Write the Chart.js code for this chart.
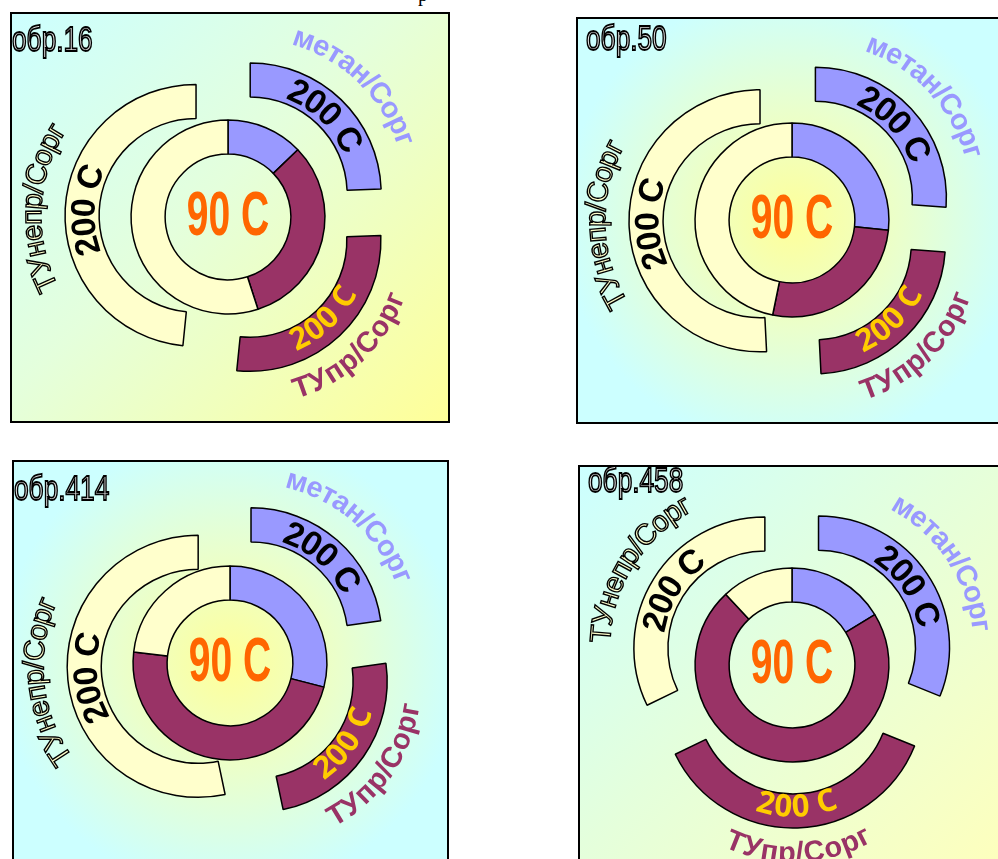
<!DOCTYPE html>
<html>
<head>
<meta charset="utf-8">
<script src="https://cdn.jsdelivr.net/npm/chart.js@4.4.0/dist/chart.umd.min.js"></script>
<style>
  html, body { margin: 0; padding: 0; background: #fff; }
  body { width: 998px; height: 859px; overflow: hidden; position: relative; }
  .panel { position: absolute; border: 2px solid #000; }
  .panel canvas { display: block; }
  .cut { position: absolute; left: 418px; top: -17px; font: 20px "Liberation Serif"; color: #000; }
</style>
</head>
<body>
<div class="cut">р</div>
<div class="panel" id="p0"><canvas id="c0"></canvas></div>
<div class="panel" id="p1"><canvas id="c1"></canvas></div>
<div class="panel" id="p2"><canvas id="c2"></canvas></div>
<div class="panel" id="p3"><canvas id="c3"></canvas></div>
<script>
// categories and series
const categories = ["метан/Сорг", "ТУпр/Сорг", "ТУнепр/Сорг"];
const seriesNames = ["200 C", "90 C"];
const samples = ["обр.16", "обр.50", "обр.414", "обр.458"];

// shares, % (outer ring = 200 C, inner ring = 90 C)
const outer16 = [24.4, 27.2, 48.4];
const inner16 = [12.8, 32.2, 55.0];
const outer50 = [26.1, 23.1, 50.8];
const inner50 = [26.7, 26.5, 46.8];
const outer414 = [22.8, 23.9, 53.3];
const inner414 = [29.0, 47.8, 23.2];
const outer458 = [31.1, 36.7, 32.2];
const inner458 = [16.3, 71.7, 12.0];

const outerData = [outer16, outer50, outer414, outer458];
const innerData = [inner16, inner50, inner414, inner458];

const colors = ["#9999ff", "#993366", "#ffffcc"];
const EXPLODE = 32; // outer ring pulled out, px

// panel boxes (page layout)
const panels = [
  { left: 10, top: 12, w: 436, h: 407, cx: 216, cy: 203, bg: "diag", tx: 0, ty: 37 },
  { left: 576, top: 17, w: 436, h: 403, cx: 214, cy: 201, bg: "radial", tx: 8, ty: 31 },
  { left: 12, top: 460, w: 433, h: 407, cx: 216, cy: 201, bg: "radial", tx: 0, ty: 38 },
  { left: 578, top: 465, w: 436, h: 407, cx: 212, cy: 198, bg: "diag2", tx: 8, ty: 25 },
];

// text styles
const valueStyle = [
  { font: "bold 34px 'Liberation Sans'", fill: "#000" },
  { font: "bold 31px 'Open Sans'", fill: "#ffcc00" },
  { font: "bold 34px 'Liberation Sans'", fill: "#000" },
];
const labelStyle = [
  { font: "bold 29px 'Liberation Sans'", fill: "#9999ff", gap: 32 },
  { font: "bold 29px 'Liberation Sans'", fill: "#993366", gap: 26 },
  { font: "29px 'Liberation Sans'", fill: "#ffffcc", stroke: "#000", lw: 1.4, gap: 32 },
];

function curved(ctx, text, cx, cy, r, mid, flip, st) {
  const chars = [...text];
  const sx = st.sx || 1;
  ctx.save();
  ctx.font = st.font;
  ctx.textAlign = "center";
  ctx.textBaseline = "middle";
  const widths = chars.map((ch) => ctx.measureText(ch).width * sx);
  const total = widths.reduce((a, b) => a + b, 0);
  const dir = flip ? -1 : 1;
  let a = mid - (dir * total) / 2 / r;
  chars.forEach((ch, k) => {
    const ang = a + (dir * widths[k]) / 2 / r;
    ctx.save();
    ctx.translate(cx + r * Math.cos(ang), cy + r * Math.sin(ang));
    ctx.rotate(ang + (dir * Math.PI) / 2);
    ctx.scale(sx, 1);
    ctx.fillStyle = st.fill;
    ctx.fillText(ch, 0, 0);
    if (st.stroke) {
      ctx.lineWidth = st.lw;
      ctx.strokeStyle = st.stroke;
      ctx.strokeText(ch, 0, 0);
    }
    ctx.restore();
    a += (dir * widths[k]) / r;
  });
  ctx.restore();
}

const arcText = {
  id: "arcText",
  // draw the outer ring exploded: each arc moved out along its own middle
  beforeDatasetDraw(chart, args) {
    if (args.index !== 0) return;
    const ctx = chart.ctx;
    args.meta.data.forEach((arc) => {
      const mid = (arc.startAngle + arc.endAngle) / 2;
      ctx.save();
      ctx.translate(Math.cos(mid) * EXPLODE, Math.sin(mid) * EXPLODE);
      arc.draw(ctx, chart.chartArea);
      ctx.restore();
    });
    return false;
  },
  afterDatasetsDraw(chart, args, opts) {
    const ctx = chart.ctx;
    chart.getDatasetMeta(0).data.forEach((arc, i) => {
      const p = arc.getProps(["x", "y", "startAngle", "endAngle", "innerRadius", "outerRadius"], true);
      const mid = (p.startAngle + p.endAngle) / 2;
      const cx = p.x + Math.cos(mid) * EXPLODE;
      const cy = p.y + Math.sin(mid) * EXPLODE;
      const deg = (((mid + Math.PI / 2) * 180) / Math.PI + 360) % 360;
      const flip = deg > 90 && deg < 250;
      curved(ctx, seriesNames[0], cx, cy, (p.innerRadius + p.outerRadius) / 2 - 3, mid, flip, valueStyle[i]);
      curved(ctx, categories[i], cx, cy, p.outerRadius + labelStyle[i].gap, mid, flip, labelStyle[i]);
    });

    // 90 C in the hole
    const c = chart.getDatasetMeta(1).data[0];
    ctx.save();
    ctx.translate(c.x, c.y + 18);
    ctx.scale(0.62, 1);
    ctx.font = "bold 63px 'Liberation Sans'";
    ctx.textAlign = "center";
    ctx.textBaseline = "alphabetic";
    ctx.fillStyle = "#ff6600";
    ctx.fillText(seriesNames[1], 0, 0);
    ctx.restore();

    // sample name
    ctx.save();
    ctx.translate(opts.tx, opts.ty);
    ctx.scale(0.75, 1);
    ctx.font = "35px 'Liberation Sans'";
    ctx.textBaseline = "alphabetic";
    ctx.fillStyle = "#e0e0e0";
    ctx.fillText(opts.title, 0, 0);
    ctx.lineWidth = 1.8;
    ctx.strokeStyle = "#000";
    ctx.strokeText(opts.title, 0, 0);
    ctx.restore();
  },
};

function pad(pn) {
  return {
    left: Math.max(0, 2 * pn.cx - pn.w),
    right: Math.max(0, pn.w - 2 * pn.cx),
    top: Math.max(0, 2 * pn.cy - pn.h),
    bottom: Math.max(0, pn.h - 2 * pn.cy),
  };
}

panels.forEach((pn, k) => {
  const box = document.getElementById("p" + k);
  box.style.left = pn.left + "px";
  box.style.top = pn.top + "px";
  box.style.width = pn.w + "px";
  box.style.height = pn.h + "px";
  if (pn.bg === "diag") {
    box.style.background = "linear-gradient(135deg, #ccffff 0%, #e4ffdc 45%, #ffff99 100%)";
  } else if (pn.bg === "diag2") {
    box.style.background = "linear-gradient(135deg, #ccffff 0%, #e4ffdc 45%, #ffffbb 100%)";
  } else {
    box.style.background =
      "radial-gradient(circle at " + pn.cx + "px " + pn.cy + "px, #ffff99 0px, #eaffcc 110px, #ccffff 230px)";
  }
  const cv = document.getElementById("c" + k);
  cv.width = pn.w;
  cv.height = pn.h;

  new Chart(cv, {
    type: "doughnut",
    data: {
      labels: categories,
      datasets: [
        {
          label: seriesNames[0],
          data: outerData[k],
          backgroundColor: colors,
          borderColor: "#000",
          borderWidth: 1.5,
          hoverOffset: 0,
        },
        {
          label: seriesNames[1],
          data: innerData[k],
          backgroundColor: colors,
          borderColor: "#000",
          borderWidth: 1.5,
          hoverOffset: 0,
        },
      ],
    },
    options: {
      responsive: false,
      animation: false,
      events: [],
      radius: 131,
      cutout: "48%",
      layout: { padding: pad(pn) },
      plugins: {
        legend: { display: false },
        tooltip: { enabled: false },
        arcText: { title: samples[k], tx: pn.tx, ty: pn.ty },
      },
    },
    plugins: [arcText],
  });
});
</script>
</body>
</html>
